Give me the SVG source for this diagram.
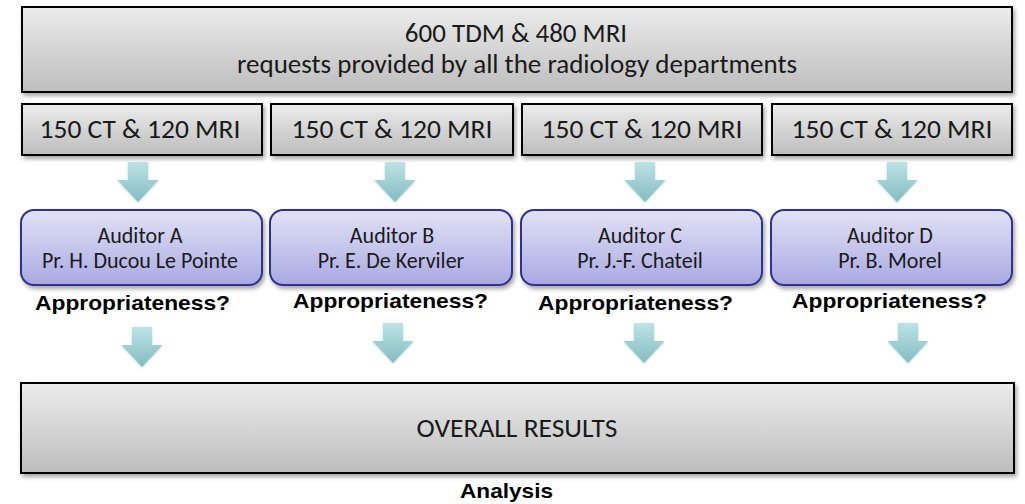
<svg xmlns="http://www.w3.org/2000/svg" width="1025" height="504" viewBox="0 0 1025 504">
<defs>
<linearGradient id="gGray" x1="0" y1="0" x2="0" y2="1"><stop offset="0" stop-color="#ececec"/><stop offset="1" stop-color="#bdbdbd"/></linearGradient>
<linearGradient id="gBlue" x1="0" y1="0" x2="0" y2="1"><stop offset="0" stop-color="#e2e2f6"/><stop offset="1" stop-color="#a9a9e2"/></linearGradient>
<linearGradient id="gArrow" x1="0" y1="0" x2="0" y2="1"><stop offset="0" stop-color="#bde3e6"/><stop offset="1" stop-color="#82bcc0"/></linearGradient>
<filter id="sh" x="-5%" y="-20%" width="110%" height="150%"><feDropShadow dx="2" dy="3" stdDeviation="2" flood-color="#000" flood-opacity="0.35"/></filter>
<filter id="ash" x="-30%" y="-30%" width="160%" height="160%"><feDropShadow dx="0" dy="1" stdDeviation="1.2" flood-color="#7fb8bc" flood-opacity="0.5"/></filter>
<path id="arr" d="M-10,0 H10 V18 H20.5 L0,40 L-20.5,18 H-10 Z"/>
</defs>
<style>
.box{fill:url(#gGray);stroke:#000;stroke-width:2;filter:url(#sh)}
.aud{fill:url(#gBlue);stroke:#2e3192;stroke-width:2;filter:url(#sh)}
.t{font-family:Carlito,Lato,"Open Sans",sans-serif;fill:#1a1a1a;text-anchor:middle}
.b{font-family:"Liberation Sans",Arial,sans-serif;font-weight:bold;fill:#000;text-anchor:middle}
.arrow{fill:url(#gArrow);filter:url(#ash)}
</style>
<g id="top">
<rect class="box" x="22" y="7" width="990" height="85"/>
<text class="t" x="516" y="42" font-size="27">600 TDM &amp; 480 MRI</text>
<text class="t" x="517" y="73" font-size="27">requests provided by all the radiology departments</text>
</g>
<g id="setA"><rect class="box" x="22" y="104" width="240" height="51"/><text class="t" x="140" y="138" font-size="27.5">150 CT &amp; 120 MRI</text></g>
<g id="setB"><rect class="box" x="271" y="104" width="242" height="51"/><text class="t" x="392" y="138" font-size="27.5">150 CT &amp; 120 MRI</text></g>
<g id="setC"><rect class="box" x="522" y="104" width="240" height="51"/><text class="t" x="642" y="138" font-size="27.5">150 CT &amp; 120 MRI</text></g>
<g id="setD"><rect class="box" x="772" y="104" width="240" height="51"/><text class="t" x="892" y="138" font-size="27.5">150 CT &amp; 120 MRI</text></g>
<g id="connectors">
<use href="#arr" class="arrow" x="138" y="162"/>
<use href="#arr" class="arrow" x="395" y="162"/>
<use href="#arr" class="arrow" x="645" y="162"/>
<use href="#arr" class="arrow" x="897" y="162"/>
<use href="#arr" class="arrow" x="142" y="327"/>
<use href="#arr" class="arrow" x="393" y="323"/>
<use href="#arr" class="arrow" x="644" y="323"/>
<use href="#arr" class="arrow" x="908" y="323"/>
</g>
<g id="auditorA"><rect class="aud" x="21" y="210" width="241" height="75" rx="13"/><text class="t" x="140" y="243" font-size="22">Auditor A</text><text class="t" x="140" y="268" font-size="22">Pr. H. Ducou Le Pointe</text></g>
<g id="auditorB"><rect class="aud" x="270" y="210" width="242" height="75" rx="13"/><text class="t" x="392" y="243" font-size="22">Auditor B</text><text class="t" x="391" y="268" font-size="22">Pr. E. De Kerviler</text></g>
<g id="auditorC"><rect class="aud" x="521" y="210" width="241" height="75" rx="13"/><text class="t" x="640" y="243" font-size="22">Auditor C</text><text class="t" x="640" y="268" font-size="22">Pr. J.-F. Chateil</text></g>
<g id="auditorD"><rect class="aud" x="771" y="210" width="241" height="75" rx="13"/><text class="t" x="890" y="243" font-size="22">Auditor D</text><text class="t" x="890" y="268" font-size="22">Pr. B. Morel</text></g>
<g id="labels">
<text class="b" x="132.5" y="310" font-size="20.5" textLength="195" lengthAdjust="spacingAndGlyphs">Appropriateness?</text>
<text class="b" x="390.5" y="308" font-size="20.5" textLength="195" lengthAdjust="spacingAndGlyphs">Appropriateness?</text>
<text class="b" x="635.5" y="310" font-size="20.5" textLength="195" lengthAdjust="spacingAndGlyphs">Appropriateness?</text>
<text class="b" x="889.5" y="308" font-size="20.5" textLength="195" lengthAdjust="spacingAndGlyphs">Appropriateness?</text>
</g>
<g id="overall">
<rect class="box" x="21" y="383" width="993" height="90"/>
<text class="t" x="517" y="437" font-size="27.5">OVERALL RESULTS</text>
</g>
<text class="b" x="506.5" y="498" font-size="21" textLength="93" lengthAdjust="spacingAndGlyphs">Analysis</text>
</svg>
